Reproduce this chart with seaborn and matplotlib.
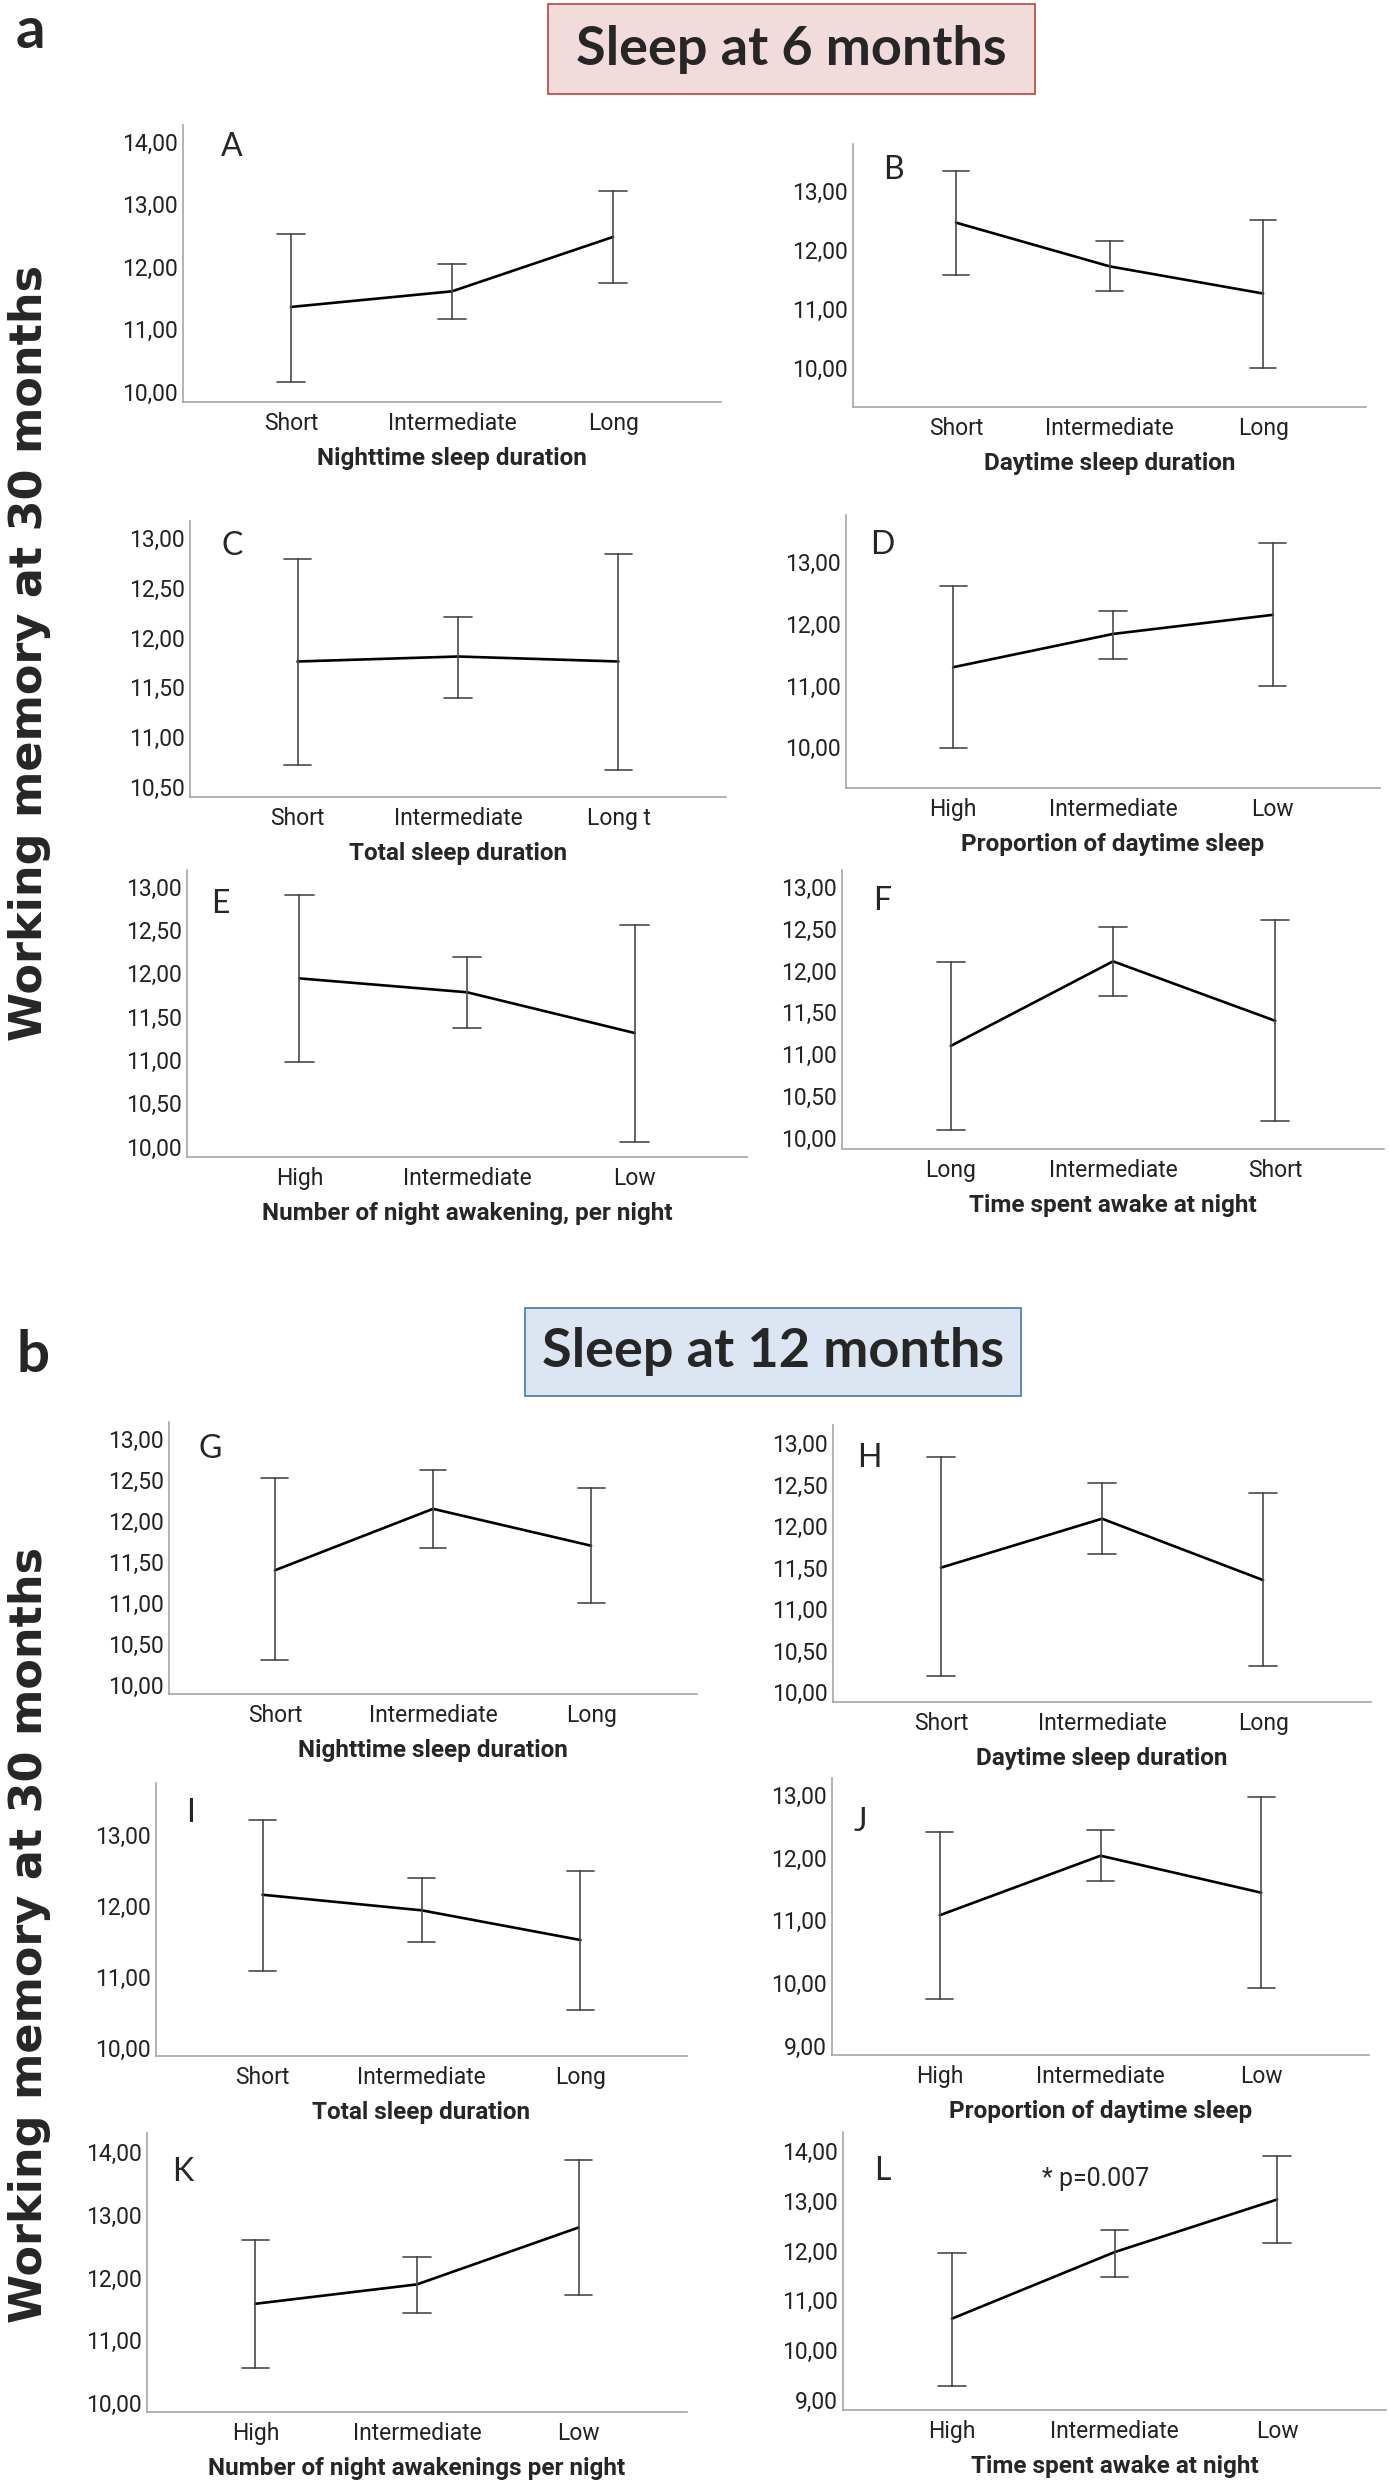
import numpy as np
import pandas as pd
import matplotlib
matplotlib.use('Agg')
import matplotlib.pyplot as plt
from matplotlib.ticker import FuncFormatter, MultipleLocator
from matplotlib.patches import Rectangle
import seaborn as sns

#########################
## data
panel_ids = ['A', 'B', 'C', 'D', 'E', 'F', 'G', 'H', 'I', 'J', 'K', 'L']

xlabels = ['Nighttime sleep duration', 'Daytime sleep duration',
           'Total sleep duration', 'Proportion of daytime sleep',
           'Number of night awakening, per night', 'Time spent awake at night',
           'Nighttime sleep duration', 'Daytime sleep duration',
           'Total sleep duration', 'Proportion of daytime sleep',
           'Number of night awakenings per night', 'Time spent awake at night']

categories = [['Short', 'Intermediate', 'Long'],
              ['Short', 'Intermediate', 'Long'],
              ['Short', 'Intermediate', 'Long t'],
              ['High', 'Intermediate', 'Low'],
              ['High', 'Intermediate', 'Low'],
              ['Long', 'Intermediate', 'Short'],
              ['Short', 'Intermediate', 'Long'],
              ['Short', 'Intermediate', 'Long'],
              ['Short', 'Intermediate', 'Long'],
              ['High', 'Intermediate', 'Low'],
              ['High', 'Intermediate', 'Low'],
              ['High', 'Intermediate', 'Low']]

means = [[11.36, 11.61, 12.48],
         [12.46, 11.72, 11.26],
         [11.76, 11.81, 11.76],
         [11.30, 11.84, 12.15],
         [11.94, 11.78, 11.31],
         [11.10, 12.11, 11.40],
         [11.40, 12.15, 11.70],
         [11.50, 12.09, 11.35],
         [12.16, 11.94, 11.52],
         [11.08, 12.03, 11.44],
         [11.58, 11.89, 12.80],
         [10.63, 11.97, 13.03]]

lower = [[10.16, 11.17, 11.75],
         [11.58, 11.30, 10.00],
         [10.72, 11.39, 10.67],
         [9.99, 11.43, 11.00],
         [10.98, 11.37, 10.05],
         [10.10, 11.70, 10.20],
         [10.30, 11.67, 11.00],
         [10.19, 11.66, 10.31],
         [11.08, 11.49, 10.53],
         [9.75, 11.63, 9.92],
         [10.56, 11.44, 11.72],
         [9.28, 11.47, 12.16]]

upper = [[12.53, 12.05, 13.21],
         [13.33, 12.15, 12.51],
         [12.79, 12.21, 12.84],
         [12.61, 12.22, 13.31],
         [12.90, 12.19, 12.56],
         [12.10, 12.52, 12.60],
         [12.53, 12.63, 12.40],
         [12.83, 12.52, 12.40],
         [13.22, 12.40, 12.49],
         [12.41, 12.44, 12.96],
         [12.60, 12.33, 13.88],
         [11.96, 12.41, 13.90]]

annot_text = '* p=0.007'

#########################
## layout (pixels in a 1389 x 2481 canvas)
W, H = 1389, 2481
# left, right, top, bottom of each axes
boxes = [(183, 721, 125, 402), (853, 1366, 144, 407),
         (190, 726, 521, 797), (846, 1380, 515, 788),
         (187, 747, 870, 1157), (842, 1384, 870, 1149),
         (169, 697, 1422, 1694), (833, 1371, 1425, 1702),
         (156, 687, 1783, 2056), (832, 1369, 1778, 2055),
         (147, 687, 2133, 2412), (843, 1386, 2132, 2410)]
ylims = [(9.84, 14.27), (9.34, 13.79), (10.40, 13.17), (9.34, 13.77),
         (9.88, 13.19), (9.87, 13.20), (9.89, 13.21), (9.88, 13.22),
         (9.88, 13.74), (8.85, 13.27), (9.85, 14.31), (8.79, 14.39)]
ysteps = [1, 1, 0.5, 1, 0.5, 0.5, 0.5, 0.5, 1, 1, 1, 1]
letter_pos = [(0.09, 0.92), (0.078, 0.90), (0.078, 0.91), (0.067, 0.89),
              (0.059, 0.88), (0.074, 0.89), (0.078, 0.90), (0.067, 0.88),
              (0.066, 0.89), (0.052, 0.84), (0.067, 0.86), (0.072, 0.86)]

sns.set_style('white')
narrow = ['Roboto', 'DejaVu Sans']
calib = ['Lato', 'DejaVu Sans']
plt.rcParams['font.family'] = narrow

fig = plt.figure(figsize=(W / 100, H / 100), dpi=100)
fmt = FuncFormatter(lambda v, p: ('%.2f' % v).replace('.', ','))

for i in range(len(panel_ids)):
    l, r, t, b = boxes[i]
    ax = fig.add_axes([l / W, 1 - b / H, (r - l) / W, (b - t) / H])

    rows = []
    for c, m, lo, hi in zip(categories[i], means[i], lower[i], upper[i]):
        for v in (lo, m, hi):
            rows.append({'group': c, 'score': v})
    df = pd.DataFrame(rows)

    sns.pointplot(data=df, x='group', y='score', order=categories[i],
                  estimator='median', errorbar=('pi', 100), capsize=0.17,
                  color='black', markers='', linewidth=1.9,
                  err_kws={'color': '#4a4a4a', 'linewidth': 1.2}, ax=ax)

    ax.set_xlim(-0.67, 2.67)
    ax.set_ylim(*ylims[i])
    ax.yaxis.set_major_locator(MultipleLocator(ysteps[i]))
    ax.yaxis.set_major_formatter(fmt)
    ax.tick_params(length=0, labelsize=16.5, colors='#222222')
    ax.tick_params(axis='x', pad=7)
    ax.tick_params(axis='y', pad=4)
    ax.set_ylabel('')
    ax.set_xlabel(xlabels[i], fontsize=17.5, fontweight='bold', labelpad=9)
    for s in ['top', 'right']:
        ax.spines[s].set_visible(False)
    for s in ['left', 'bottom']:
        ax.spines[s].set_color('#a6a6a6')
        ax.spines[s].set_linewidth(1.2)

    ax.text(letter_pos[i][0], letter_pos[i][1], panel_ids[i], transform=ax.transAxes,
            ha='center', va='center', fontsize=23, family=calib)

    if panel_ids[i] == 'L':
        ax.text(0.466, 0.83, annot_text, transform=ax.transAxes,
                ha='center', va='center', fontsize=18)

#########################
## section headers
def header(x0, x1, y0, y1, text, face, edge):
    fig.patches.append(Rectangle((x0 / W, 1 - y1 / H), (x1 - x0) / W, (y1 - y0) / H,
                                 transform=fig.transFigure, facecolor=face,
                                 edgecolor=edge, linewidth=1.3))
    fig.text((x0 + x1) / 2 / W, 1 - (y0 + y1) / 2 / H, text, ha='center', va='center',
             fontsize=39, fontweight='bold', family=calib)

header(548, 1035, 4, 94, 'Sleep at 6 months', '#f2dcdb', '#c0504d')
header(525, 1021, 1308, 1396, 'Sleep at 12 months', '#dce6f2', '#4f81bd')

fig.text(16 / W, 1 - 48 / H, 'a', ha='left', va='baseline', fontsize=42,
         fontweight='bold', family=calib)
fig.text(16 / W, 1 - 1372 / H, 'b', ha='left', va='baseline', fontsize=42,
         fontweight='bold', family=calib)

for yc in (653, 1935):
    fig.text(30 / W, 1 - yc / H, 'Working memory at 30 months', rotation=90,
             ha='center', va='center', fontsize=32, fontweight='bold',
             family=['DejaVu Sans'])

fig.savefig('out.png', dpi=100)
